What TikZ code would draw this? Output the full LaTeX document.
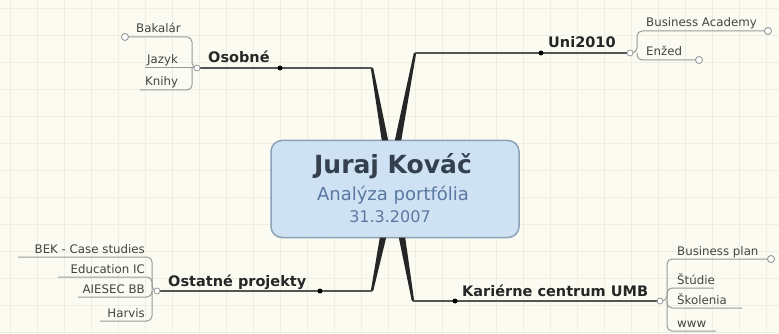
\documentclass[tikz,border=0pt]{standalone}
\usepackage{fontspec}
\setmainfont{DejaVu Sans}
\definecolor{bgc}{HTML}{FBFBF2}
\definecolor{gridc}{HTML}{EEEEE2}
\definecolor{boxfill}{HTML}{CFE2F3}
\definecolor{boxdraw}{HTML}{8AA2B8}
\definecolor{titlec}{HTML}{34404E}
\definecolor{subc}{HTML}{5A78A0}
\definecolor{mainln}{HTML}{555555}
\definecolor{childln}{HTML}{9A9A9A}
\definecolor{childtx}{HTML}{444444}
\tikzset{
  mainlbl/.style={inner sep=0pt, font=\fontsize{14.5}{15}\selectfont\bfseries, text=black!85},
  childlbl/.style={inner sep=0pt, font=\fontsize{11.8}{13}\selectfont, text=childtx},
  mainline/.style={draw=mainln, line width=1.4pt},
  childline/.style={draw=childln, line width=1pt, rounded corners=5pt},
  taper/.style={fill=black!85},
  enddot/.style={circle, fill=black, inner sep=0pt, minimum size=5pt},
  junc/.style={circle, draw=childln, fill=white, line width=0.8pt, inner sep=0pt, minimum size=6pt},
  endcirc/.style={circle, draw=childln, fill=white, line width=0.9pt, inner sep=0pt, minimum size=7pt}
}
\begin{document}
\begin{tikzpicture}[x=1pt, y=-1pt]
\useasboundingbox (0,0) rectangle (779,334);
\fill[bgc] (0,0) rectangle (779,334);
\foreach \gx in {10,37,...,779} \draw[gridc, line width=0.8pt] (\gx,0) -- (\gx,334);
\foreach \gy in {8,35,...,334} \draw[gridc, line width=0.8pt] (0,\gy) -- (779,\gy);

% central box
\node[draw=boxdraw, fill=boxfill, line width=1.5pt, rounded corners=11pt,
      minimum width=248pt, minimum height=97pt, inner sep=0pt] (center) at (395,189) {};
\node[inner sep=0pt, font=\fontsize{25}{28}\selectfont\bfseries, text=titlec] (title) at (393,166) {Juraj Kováč};
\node[inner sep=0pt, font=\fontsize{18}{20}\selectfont, text=subc] (sub) at (393,195) {Analýza portfólia};
\node[inner sep=0pt, font=\fontsize{16}{18}\selectfont, text=subc] (date) at (390,217) {31.3.2007};

% coordinates of main branches
\coordinate (oTop) at (385,140.5);
\coordinate (uTop) at (398,140.5);
\coordinate (osBot) at (383,237.5);
\coordinate (kBot) at (402,237.5);
\coordinate (oB) at (372,68);
\coordinate (uB) at (415,53);
\coordinate (osB) at (372,291);
\coordinate (kB) at (413,301);
\coordinate (oJ) at (197,68);
\coordinate (uJ) at (630,53);
\coordinate (osJ) at (157,291);
\coordinate (kJ) at (660,301);

% tapered connectors
\fill[taper] ([xshift=-1.2pt]oB) -- ([xshift=1.2pt]oB) -- ([xshift=3.2pt]oTop) -- ([xshift=-3.2pt]oTop) -- cycle;
\fill[taper] ([xshift=-1.2pt]uB) -- ([xshift=1.2pt]uB) -- ([xshift=3.2pt]uTop) -- ([xshift=-3.2pt]uTop) -- cycle;
\fill[taper] ([xshift=-1.2pt]osB) -- ([xshift=1.2pt]osB) -- ([xshift=3.2pt]osBot) -- ([xshift=-3.2pt]osBot) -- cycle;
\fill[taper] ([xshift=-1.2pt]kB) -- ([xshift=1.2pt]kB) -- ([xshift=3.2pt]kBot) -- ([xshift=-3.2pt]kBot) -- cycle;

% main underlines
\draw[mainline] (oJ) -- (oB);
\draw[mainline] (uB) -- (uJ);
\draw[mainline] (osJ) -- (osB);
\draw[mainline] (kB) -- (kJ);

% main labels
\node[mainlbl, anchor=base west] (osobne) at (208,63) {Osobné};
\node[mainlbl, anchor=base west] (uni) at (548,48) {Uni2010};
\node[mainlbl, anchor=base west] (ostatne) at (168,286) {Ostatné projekty};
\node[mainlbl, anchor=base west] (karierne) at (462,296) {Kariérne centrum UMB};

% --- Osobné children
\coordinate (oBr) at (192,68);
\coordinate (bakC) at (125,37);
\coordinate (jazL) at (145,68);
\coordinate (kniL) at (140,90);
\draw[childline] (bakC) -| (oBr) -- (oJ);
\draw[childline] (jazL) -- (oJ);
\draw[childline] (kniL) -| (oBr);
\node[childlbl, anchor=base west] (bakalar) at (136,33) {Bakalár};
\node[childlbl, anchor=base west] (jazyk) at (147,64) {Jazyk};
\node[childlbl, anchor=base west] (knihy) at (145,86) {Knihy};
\node[endcirc] (bakcirc) at (bakC) {};

% --- Uni2010 children
\coordinate (uBr) at (637,53);
\coordinate (baR) at (768,31);
\coordinate (enR) at (699,60);
\draw[childline] (uJ) -- (uBr) |- (baR);
\draw[childline] (uBr) |- (enR);
\node[childlbl, anchor=base west] (busacad) at (646,27) {Business Academy};
\node[childlbl, anchor=base west] (enzed) at (646,56) {Enžed};
\node[endcirc] (bacirc) at (baR) {};
\node[endcirc] (encirc) at (enR) {};

% --- Ostatné children
\coordinate (osBr) at (152,291);
\coordinate (bekL) at (18,257);
\coordinate (eduL) at (58,277);
\coordinate (aieL) at (78,297);
\coordinate (harL) at (100,321);
\draw[childline] (bekL) -| (osBr) -- (osJ);
\draw[childline] (eduL) -| (osBr);
\draw[childline] (aieL) -| (osBr);
\draw[childline] (harL) -| (osBr);
\node[childlbl, anchor=base east] (bek) at (145,253) {BEK - Case studies};
\node[childlbl, anchor=base east] (edu) at (145,273) {Education IC};
\node[childlbl, anchor=base east] (aiesec) at (145,293) {AIESEC BB};
\node[childlbl, anchor=base east] (harvis) at (145,317) {Harvis};

% --- Kariérne children
\coordinate (kBr) at (667,301);
\coordinate (bpR) at (771,259);
\coordinate (stR) at (714,288);
\coordinate (skR) at (742,308);
\coordinate (wwR) at (716,331);
\draw[childline] (kJ) -- (kBr) |- (bpR);
\draw[childline] (kBr) |- (stR);
\draw[childline] (kBr) |- (skR);
\draw[childline] (kBr) |- (wwR);
\node[childlbl, anchor=base west] (busplan) at (677,255) {Business plan};
\node[childlbl, anchor=base west] (studie) at (677,284) {Štúdie};
\node[childlbl, anchor=base west] (skolenia) at (677,304) {Školenia};
\node[childlbl, anchor=base west] (www) at (677,327) {www};
\node[endcirc] (bpcirc) at (bpR) {};

% junction circles and end dots
\node[junc] (oJc) at (oJ) {};
\node[junc] (uJc) at (uJ) {};
\node[junc] (osJc) at (osJ) {};
\node[junc] (kJc) at (kJ) {};
\node[enddot] (oDot) at (280,68) {};
\node[enddot] (uDot) at (541,53) {};
\node[enddot] (osDot) at (320,291) {};
\node[enddot] (kDot) at (455,301) {};
\end{tikzpicture}
\end{document}
